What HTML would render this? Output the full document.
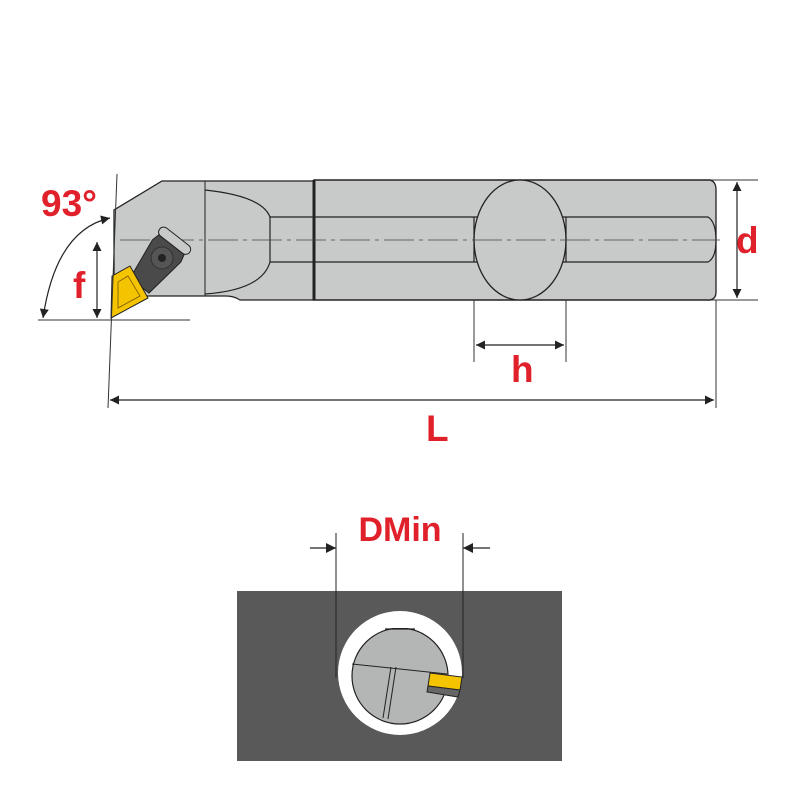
<!DOCTYPE html>
<html><head><style>body{margin:0;background:#fff}svg{display:block}</style></head><body>
<svg width="800" height="800" viewBox="0 0 800 800" xmlns="http://www.w3.org/2000/svg" font-family="Liberation Sans, sans-serif">
<defs>
<marker id="a" viewBox="0 0 10 10" refX="10" refY="5" markerWidth="16" markerHeight="9" orient="auto-start-reverse" markerUnits="userSpaceOnUse"><path d="M0,0L10,5L0,10z" fill="#222"/></marker>
<marker id="b" viewBox="0 0 10 10" refX="10" refY="5" markerWidth="22" markerHeight="10" orient="auto-start-reverse" markerUnits="userSpaceOnUse"><path d="M0,0L10,5L0,10z" fill="#222"/></marker>
</defs>
<!-- head -->
<path d="M114,228 L114,210 L162,181 L314,181 L314,300 L240,300 Q234,296 226,296 L140,296 L114,300 Z" fill="#c8c9c9" stroke="#222" stroke-width="1.3"/>
<path d="M205,181 L205,296" stroke="#222" stroke-width="1"/>
<path d="M205,190 Q262,196 270,217 L270,262 Q262,290 205,294" fill="none" stroke="#222" stroke-width="1.2"/>
<path d="M270,217 L314,217 M270,262 L314,262" stroke="#222" stroke-width="1.2"/>
<!-- shaft -->
<rect x="314" y="180" width="396" height="120" fill="#c8c9c9" stroke="#222" stroke-width="1.5"/>
<path d="M708,180 Q716,180 716,190 L716,292 Q716,300 708,300" fill="#c8c9c9" stroke="#222" stroke-width="1.3"/>
<path d="M314,217 L708,217 Q716,222 716,240 Q716,258 708,262 L314,262" fill="none" stroke="#222" stroke-width="1.2"/>
<line x1="314" y1="180" x2="314" y2="300" stroke="#222" stroke-width="3"/>
<ellipse cx="520" cy="240" rx="46" ry="60" fill="#c8c9c9" stroke="#222" stroke-width="1.3"/>
<line x1="474" y1="217" x2="474" y2="262" stroke="#222" stroke-width="1.2"/>
<line x1="566" y1="217" x2="566" y2="262" stroke="#222" stroke-width="1.2"/>
<line x1="120" y1="240" x2="720" y2="240" stroke="#444" stroke-width="0.8" stroke-dasharray="30,5,4,5"/>
<!-- clamp -->
<g transform="rotate(-52 158 262)">
<path d="M128,250 L172,244 L180,246 L180,278 L172,280 L128,274 Z" fill="#4a4a4a" stroke="#222"/>
<rect x="180" y="243" width="10" height="38" rx="5" fill="#c8c9c9" stroke="#222"/>
</g>
<circle cx="162" cy="258" r="11" fill="#555" stroke="#333"/>
<circle cx="162" cy="258" r="4" fill="#222"/>
<!-- insert -->
<path d="M112,276 L130,266 L148,298 L111,318 Z" fill="#f5c400" stroke="#222" stroke-width="1"/>
<path d="M118,282 L128,276 L140,296 L118,308 Z" fill="none" stroke="#8a6a00" stroke-width="1"/>
<!-- dims -->
<line x1="117" y1="174" x2="108" y2="408" stroke="#333" stroke-width="1"/>
<line x1="38" y1="320" x2="190" y2="320" stroke="#333" stroke-width="1"/>
<path d="M110,218 Q56,230 43,318" fill="none" stroke="#222" stroke-width="1.2" marker-start="url(#a)" marker-end="url(#a)"/>
<line x1="97" y1="242" x2="97" y2="318" stroke="#222" stroke-width="1.2" marker-start="url(#a)" marker-end="url(#a)"/>
<text x="41" y="216" font-size="37" font-weight="bold" fill="#e0202a">93°</text>
<text x="73" y="298" font-size="37" font-weight="bold" fill="#e0202a">f</text>
<line x1="710" y1="180" x2="758" y2="180" stroke="#333"/>
<line x1="710" y1="300" x2="758" y2="300" stroke="#333"/>
<line x1="737" y1="182" x2="737" y2="298" stroke="#222" stroke-width="1.2" marker-start="url(#a)" marker-end="url(#a)"/>
<text x="736" y="253" font-size="37" font-weight="bold" fill="#e0202a">d</text>
<line x1="474" y1="300" x2="474" y2="362" stroke="#333"/>
<line x1="566" y1="300" x2="566" y2="362" stroke="#333"/>
<line x1="476" y1="345" x2="564" y2="345" stroke="#222" stroke-width="1.2" marker-start="url(#a)" marker-end="url(#a)"/>
<text x="511" y="382" font-size="37" font-weight="bold" fill="#e0202a">h</text>
<line x1="716" y1="300" x2="716" y2="408" stroke="#333"/>
<line x1="110" y1="400" x2="714" y2="400" stroke="#222" stroke-width="1.2" marker-start="url(#a)" marker-end="url(#a)"/>
<text x="426" y="441" font-size="37" font-weight="bold" fill="#e0202a">L</text>
<!-- bottom -->
<rect x="237" y="591" width="325" height="170" fill="#595959"/>
<circle cx="400" cy="673" r="62" fill="#fff"/>
<clipPath id="c"><rect x="340" y="628" width="130" height="110"/></clipPath>
<circle cx="400" cy="676" r="48" fill="#b4b5b5" stroke="#222" stroke-width="1.2" clip-path="url(#c)"/>
<line x1="385" y1="629" x2="415" y2="629" stroke="#222" stroke-width="1.2"/>
<line x1="352" y1="664" x2="447" y2="674" stroke="#222" stroke-width="1"/>
<line x1="391" y1="667" x2="383" y2="718" stroke="#222"/>
<line x1="396" y1="667" x2="388" y2="719" stroke="#222"/>
<polygon points="430,673 462,677 460,690 428,686" fill="#f5c400" stroke="#222"/>
<polygon points="428,686 460,690 458,697 427,692" fill="#666" stroke="#222"/>
<line x1="336" y1="533" x2="336" y2="678" stroke="#222"/>
<line x1="463" y1="533" x2="463" y2="678" stroke="#222"/>
<line x1="310" y1="548" x2="336" y2="548" stroke="#222" stroke-width="1.2" marker-end="url(#b)"/>
<line x1="490" y1="548" x2="463" y2="548" stroke="#222" stroke-width="1.2" marker-end="url(#b)"/>
<text x="400" y="541" font-size="34" font-weight="bold" fill="#e0202a" text-anchor="middle">DMin</text>
</svg>
</body></html>
